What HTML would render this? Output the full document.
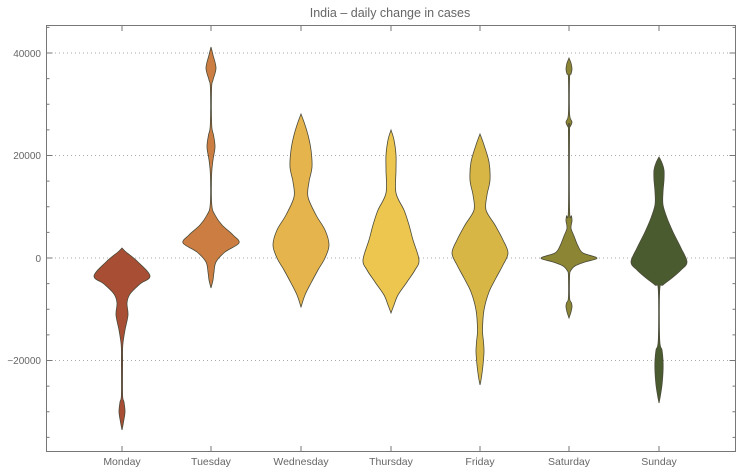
<!DOCTYPE html>
<html><head><meta charset="utf-8"><style>
html,body{margin:0;padding:0;background:#fff;}
svg text{font-family:"Liberation Sans",sans-serif;fill:#666;}
</style></head><body>
<svg id="s" width="755" height="471" viewBox="0 0 755 471" xmlns="http://www.w3.org/2000/svg">
<rect x="0" y="0" width="755" height="471" fill="#fff"/>
<text x="390" y="17" font-size="12.5" text-anchor="middle" fill="#555">India – daily change in cases</text>
<g stroke="#aaa" stroke-width="1" stroke-dasharray="1,3">
<line x1="47" x2="735" y1="53" y2="53"/>
<line x1="47" x2="735" y1="155.5" y2="155.5"/>
<line x1="47" x2="735" y1="258" y2="258"/>
<line x1="47" x2="735" y1="360.5" y2="360.5"/>
</g>
<g id="v"></g>
<rect x="46.5" y="25.5" width="689" height="426" fill="none" stroke="#777" stroke-width="1"/>
<g id="ticks" stroke="#777" stroke-width="1"></g>
<g font-size="10" text-anchor="end">
<text x="41" y="57">40000</text>
<text x="41" y="159">20000</text>
<text x="41" y="262">0</text>
<text x="41" y="364">−20000</text>
</g>
<g font-size="10.5" text-anchor="middle">
<text x="122" y="465">Monday</text>
<text x="211" y="465">Tuesday</text>
<text x="301" y="465">Wednesday</text>
<text x="391" y="465">Thursday</text>
<text x="480" y="465">Friday</text>
<text x="569" y="465">Saturday</text>
<text x="659" y="465">Sunday</text>
</g>
</svg>
<script>
var V=[
[122,"#a84e34",[[248,0],[252,4],[262,16],[276,28],[284,18],[294,8],[303,5],[315,6],[330,3],[345,0.8],[360,0.6],[395,0.6],[402,2],[412,3],[422,1.5],[430,0]]],
[211,"#cc7e42",[[47,0],[55,2],[68,5],[80,2],[88,0.6],[125,0.7],[135,2.5],[147,4],[160,2],[175,0.6],[205,0.8],[215,4],[225,11],[235,22],[243,28],[252,14],[262,5],[272,3],[280,2],[288,0]]],
[301,"#e6b44c",[[114,0],[122,3],[135,7],[150,10],[167,11],[182,8],[197,7],[215,15],[230,24],[245,28],[258,24],[270,17],[283,10],[295,4],[307,0]]],
[391,"#edc64f",[[130,0],[140,3],[155,5],[170,5],[193,5],[210,13],[225,18],[240,22],[260,28],[270,24],[282,16],[295,7],[305,3],[313,0]]],
[480,"#d8b645",[[134,0],[145,4],[162,9],[180,10],[195,7],[210,6],[225,15],[240,23],[253,28],[265,23],[278,16],[292,9],[310,4],[330,2.5],[342,3.5],[352,4],[365,3],[377,1.5],[385,0]]],
[569,"#8c8533",[[58,0],[63,2],[69,3],[74,2],[78,0.6],[114,0.6],[122,3],[127,1],[130,0.6],[210,0.6],[216,2.5],[221,3],[228,2],[236,5],[246,9],[253,14],[258,28],[262,16],[266,6],[271,1.5],[276,0.6],[298,0.6],[303,2.5],[307,3],[312,2],[318,0]]],
[659,"#4a5b2f",[[157,0],[163,3],[170,5],[180,5],[192,4],[205,4],[218,8],[232,14],[248,22],[262,28],[270,22],[278,13],[285,4],[290,0.7],[340,0.7],[350,3],[360,4],[372,4],[385,3],[395,1.5],[403,0]]]
];
function cr(pts){
 var d="";
 for(var i=0;i<pts.length-1;i++){
  var p0=pts[i-1]||pts[i],p1=pts[i],p2=pts[i+1],p3=pts[i+2]||p2;
  var c1=[p1[0]+(p2[0]-p0[0])/6,p1[1]+(p2[1]-p0[1])/6];
  var c2=[p2[0]-(p3[0]-p1[0])/6,p2[1]-(p3[1]-p1[1])/6];
  d+="C"+c1[0].toFixed(1)+","+c1[1].toFixed(1)+" "+c2[0].toFixed(1)+","+c2[1].toFixed(1)+" "+p2[0].toFixed(1)+","+p2[1].toFixed(1);
 }
 return d;
}
var g=document.getElementById("v"),h="";
V.forEach(function(v){
 var cx=v[0],pr=v[2];
 var R=pr.map(function(p){return [cx+p[1],p[0]];});
 var L=pr.slice().reverse().map(function(p){return [cx-p[1],p[0]];});
 var d="M"+R[0][0]+","+R[0][1]+cr(R)+cr(L)+"Z";
 h+='<path d="'+d+'" fill="'+v[1]+'" stroke="#4a4a3a" stroke-width="0.8"/>';
});
g.innerHTML=h;
var t="";
for(var val=-35000;val<=45000;val+=5000){
 var y=258-val*0.005125; if(y<26||y>451)continue;
 var len=(val%20000===0)?6:3;
 t+='<line x1="46.5" x2="'+(46.5+len)+'" y1="'+y+'" y2="'+y+'"/>';
 t+='<line x1="735.5" x2="'+(735.5-len)+'" y1="'+y+'" y2="'+y+'"/>';
}
[122,211,301,391,480,569,659].forEach(function(x){
 t+='<line x1="'+x+'" x2="'+x+'" y1="451.5" y2="446"/>';
 t+='<line x1="'+x+'" x2="'+x+'" y1="25.5" y2="31"/>';
});
document.getElementById("ticks").innerHTML=t;
</script>
</body></html>
